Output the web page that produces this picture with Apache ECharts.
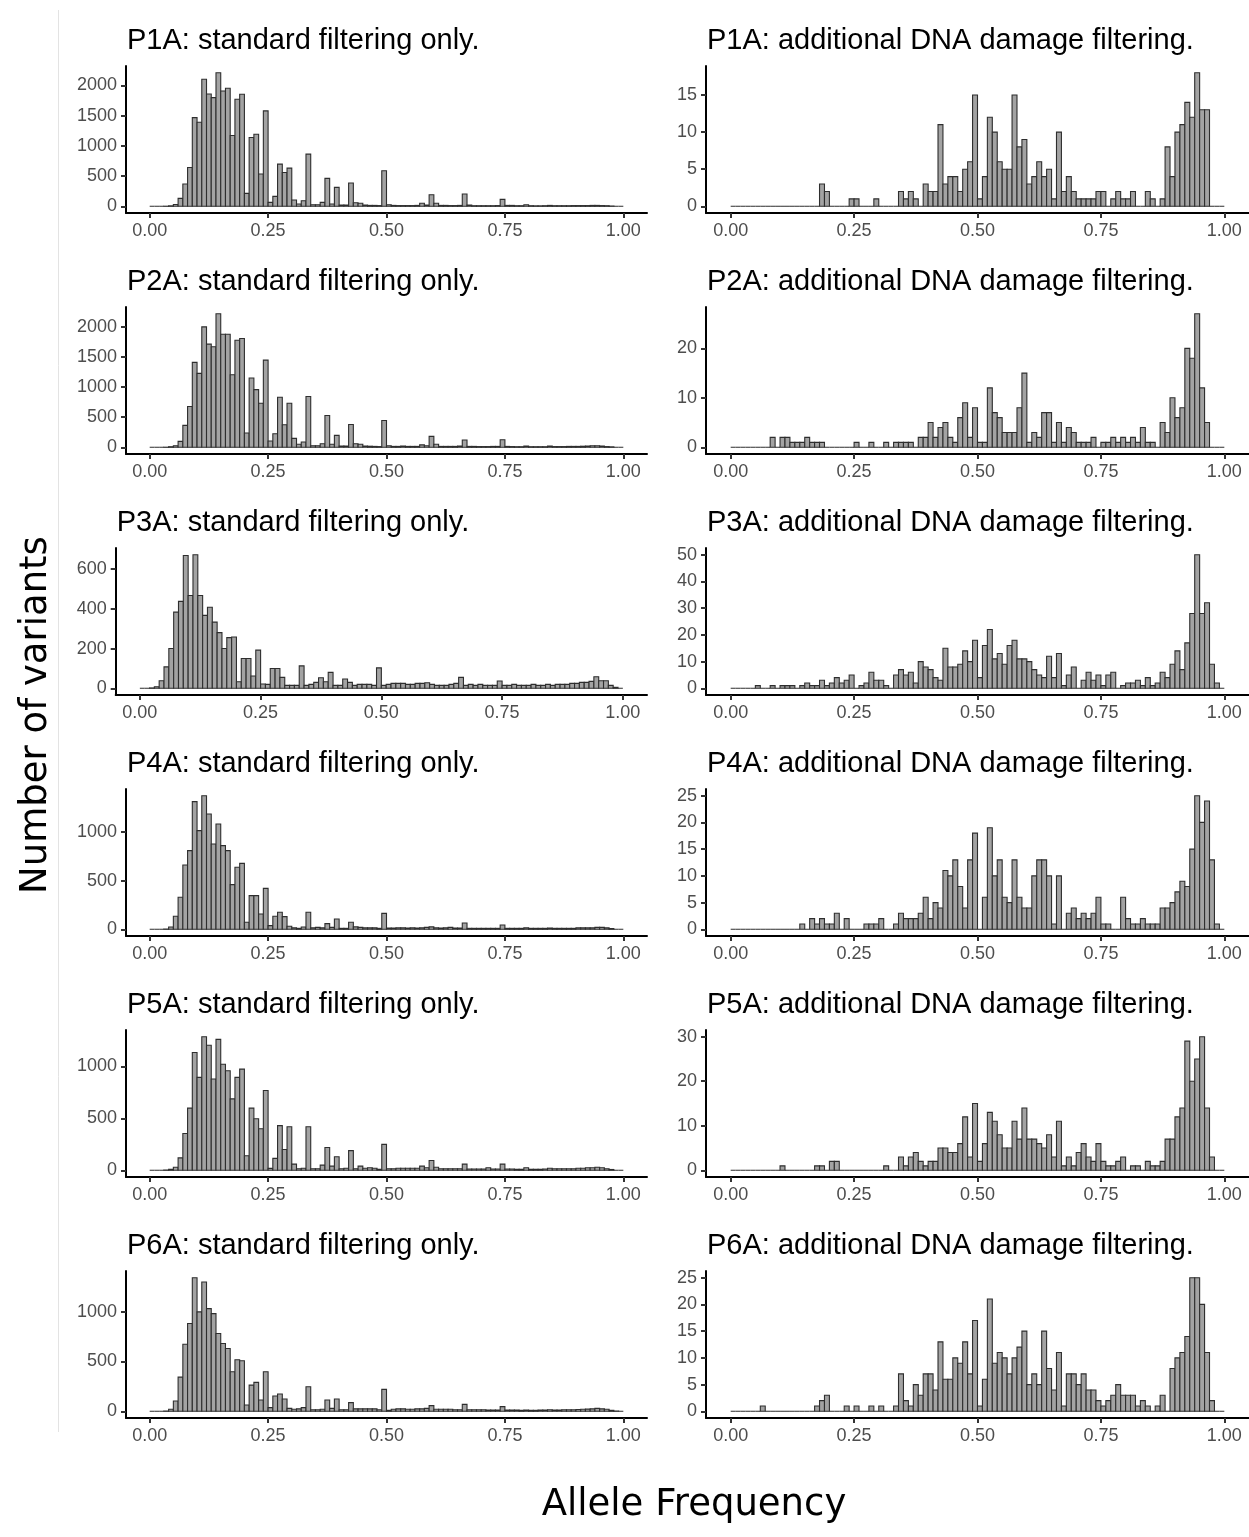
<!DOCTYPE html>
<html>
<head>
<meta charset="utf-8">
<title>Allele frequency histograms</title>
<script src="https://cdn.jsdelivr.net/npm/echarts@6/dist/echarts.min.js"></script>
<style>
  html, body { margin: 0; padding: 0; background: #fff; }
  #chart { width: 1249px; height: 1537px; }
</style>
</head>
<body>
<div id="chart"></div>
<script>
// 100 bins of width 0.01 on [0, 1]
var binWidth = 0.01;
var xTicks = [0, 0.25, 0.5, 0.75, 1];

var samples = ['P1A', 'P2A', 'P3A', 'P4A', 'P5A', 'P6A'];

// standard filtering only
var p1aStd = [
  0, 0, 0, 2, 8, 30, 132, 368, 642, 1466,
  1390, 2100, 1857, 1797, 2209, 1907, 1951, 1170, 1769, 1852,
  214, 1137, 1192, 533, 1577, 66, 165, 698, 560, 632,
  104, 38, 93, 863, 27, 27, 66, 462, 38, 313,
  20, 20, 385, 60, 50, 20, 15, 15, 12, 588,
  27, 15, 12, 12, 12, 12, 15, 50, 20, 192,
  50, 15, 15, 12, 12, 15, 203, 20, 10, 10,
  10, 10, 10, 12, 115, 15, 15, 10, 10, 25,
  10, 8, 8, 10, 15, 10, 10, 10, 10, 12,
  12, 12, 12, 15, 15, 12, 10, 5, 0, 0
];
var p2aStd = [
  0, 0, 0, 2, 10, 27, 99, 363, 676, 1407,
  1225, 1995, 1709, 1665, 2214, 1874, 1874, 1203, 1775, 1802,
  236, 1148, 956, 731, 1445, 104, 225, 830, 374, 731,
  148, 50, 88, 841, 27, 27, 60, 528, 50, 198,
  20, 20, 379, 60, 50, 20, 18, 15, 12, 445,
  25, 15, 15, 20, 15, 15, 15, 40, 25, 181,
  50, 15, 15, 15, 15, 20, 121, 15, 15, 12,
  12, 12, 15, 15, 126, 15, 12, 10, 10, 20,
  10, 10, 10, 10, 20, 12, 12, 12, 15, 15,
  15, 18, 20, 25, 25, 20, 12, 8, 0, 0
];
var p3aStd = [
  0, 0, 2, 8, 38, 108, 200, 383, 437, 668,
  467, 672, 467, 367, 408, 333, 280, 200, 255, 258,
  33, 150, 150, 62, 192, 22, 20, 100, 100, 55,
  15, 15, 15, 113, 15, 20, 30, 53, 33, 80,
  15, 15, 47, 30, 15, 20, 20, 20, 15, 103,
  15, 20, 25, 25, 25, 20, 20, 25, 25, 28,
  20, 15, 15, 15, 20, 25, 55, 15, 20, 15,
  20, 15, 15, 15, 37, 15, 15, 20, 15, 15,
  15, 20, 15, 15, 20, 15, 20, 20, 20, 25,
  25, 30, 30, 35, 58, 38, 38, 15, 5, 0
];
var p4aStd = [
  0, 0, 0, 3, 24, 134, 329, 661, 808, 1312,
  1014, 1373, 1185, 877, 1082, 860, 808, 459, 637, 678,
  72, 346, 346, 158, 421, 38, 134, 175, 130, 31,
  15, 10, 24, 175, 15, 20, 15, 58, 20, 106,
  10, 10, 72, 25, 20, 15, 15, 15, 10, 164,
  12, 12, 15, 15, 12, 15, 12, 15, 20, 25,
  15, 12, 15, 20, 12, 12, 65, 10, 10, 10,
  10, 10, 10, 10, 45, 10, 10, 10, 10, 15,
  10, 10, 10, 10, 12, 10, 10, 10, 10, 10,
  15, 15, 15, 15, 20, 20, 15, 8, 0, 0
];
var p5aStd = [
  0, 0, 0, 3, 10, 30, 120, 354, 599, 1134,
  895, 1287, 1204, 879, 1261, 1022, 959, 688, 895, 975,
  140, 599, 497, 401, 768, 19, 115, 430, 200, 420,
  60, 15, 20, 420, 15, 15, 50, 220, 40, 130,
  15, 20, 190, 15, 40, 20, 25, 20, 10, 250,
  15, 15, 20, 20, 20, 20, 20, 40, 25, 95,
  30, 15, 15, 15, 15, 15, 60, 12, 12, 12,
  12, 25, 12, 12, 60, 12, 12, 10, 10, 25,
  10, 10, 10, 12, 20, 15, 15, 15, 15, 15,
  20, 20, 25, 25, 30, 25, 15, 8, 0, 0
];
var p6aStd = [
  0, 0, 0, 3, 20, 103, 343, 673, 880, 1340,
  997, 1297, 1030, 980, 780, 680, 630, 397, 517, 507,
  63, 263, 290, 113, 397, 37, 153, 173, 123, 30,
  20, 25, 37, 247, 15, 15, 20, 113, 30, 123,
  15, 15, 87, 25, 25, 25, 25, 25, 15, 220,
  10, 20, 25, 25, 20, 20, 25, 25, 30, 57,
  20, 20, 20, 20, 15, 15, 70, 15, 15, 15,
  15, 12, 12, 12, 47, 12, 12, 12, 10, 12,
  10, 10, 12, 12, 15, 12, 12, 15, 15, 15,
  18, 20, 22, 25, 30, 25, 20, 10, 3, 0
];

// additional DNA damage filtering
var p1aDna = [
  0, 0, 0, 0, 0, 0, 0, 0, 0, 0,
  0, 0, 0, 0, 0, 0, 0, 0, 3, 2,
  0, 0, 0, 0, 1, 1, 0, 0, 0, 1,
  0, 0, 0, 0, 2, 1, 2, 1, 0, 3,
  2, 2, 11, 3, 4, 4, 2, 5, 6, 15,
  1, 4, 12, 10, 6, 5, 5, 15, 8, 9,
  3, 4, 6, 4, 5, 1, 10, 2, 4, 2,
  1, 1, 1, 1, 2, 2, 0, 1, 2, 1,
  1, 2, 0, 0, 2, 1, 0, 1, 8, 4,
  10, 11, 14, 12, 18, 13, 13, 0, 0, 0
];
var p2aDna = [
  0, 0, 0, 0, 0, 0, 0, 0, 2, 0,
  2, 2, 1, 1, 1, 2, 1, 1, 1, 0,
  0, 0, 0, 0, 0, 1, 0, 0, 1, 0,
  0, 1, 0, 1, 1, 1, 1, 0, 2, 2,
  5, 2, 4, 5, 2, 1, 6, 9, 2, 8,
  1, 1, 12, 7, 6, 3, 3, 3, 8, 15,
  1, 3, 2, 7, 7, 1, 5, 1, 4, 3,
  1, 1, 1, 2, 0, 1, 1, 2, 1, 2,
  1, 2, 1, 4, 1, 1, 0, 5, 3, 10,
  6, 8, 20, 18, 27, 12, 5, 0, 0, 0
];
var p3aDna = [
  0, 0, 0, 0, 0, 1, 0, 0, 1, 0,
  1, 1, 1, 0, 1, 2, 1, 1, 3, 1,
  2, 4, 2, 3, 5, 0, 1, 2, 6, 3,
  3, 1, 0, 5, 7, 5, 6, 2, 10, 8,
  7, 4, 3, 15, 8, 8, 9, 14, 10, 18,
  4, 16, 22, 11, 13, 9, 16, 18, 11, 11,
  10, 7, 5, 4, 12, 4, 13, 1, 5, 8,
  0, 3, 6, 3, 5, 1, 5, 6, 0, 1,
  2, 2, 3, 1, 4, 1, 2, 6, 4, 9,
  14, 7, 17, 28, 50, 28, 32, 9, 2, 0
];
var p4aDna = [
  0, 0, 0, 0, 0, 0, 0, 0, 0, 0,
  0, 0, 0, 0, 1, 0, 2, 1, 2, 1,
  1, 3, 0, 2, 0, 0, 0, 1, 1, 1,
  2, 0, 0, 1, 3, 2, 2, 2, 3, 6,
  2, 5, 4, 11, 10, 13, 8, 4, 13, 18,
  0, 6, 19, 10, 13, 6, 5, 13, 6, 4,
  4, 10, 13, 13, 10, 1, 10, 0, 3, 4,
  2, 3, 2, 3, 6, 1, 1, 0, 0, 6,
  2, 1, 1, 2, 1, 1, 1, 4, 4, 5,
  7, 9, 8, 15, 25, 20, 24, 13, 1, 0
];
var p5aDna = [
  0, 0, 0, 0, 0, 0, 0, 0, 0, 0,
  1, 0, 0, 0, 0, 0, 0, 1, 1, 0,
  2, 2, 0, 0, 0, 0, 0, 0, 0, 0,
  0, 1, 0, 0, 3, 1, 3, 4, 2, 1,
  2, 2, 5, 5, 4, 4, 6, 12, 3, 15,
  2, 6, 13, 11, 8, 5, 5, 11, 7, 14,
  7, 7, 6, 5, 8, 3, 11, 1, 3, 1,
  4, 6, 3, 2, 6, 2, 1, 1, 2, 3,
  0, 1, 1, 0, 2, 1, 1, 2, 7, 7,
  12, 14, 29, 20, 25, 30, 14, 3, 0, 0
];
var p6aDna = [
  0, 0, 0, 0, 0, 0, 1, 0, 0, 0,
  0, 0, 0, 0, 0, 0, 0, 1, 2, 3,
  0, 0, 0, 1, 0, 1, 0, 0, 1, 0,
  1, 0, 0, 1, 7, 2, 1, 5, 3, 7,
  7, 4, 13, 6, 6, 10, 9, 13, 7, 17,
  1, 6, 21, 9, 11, 10, 7, 10, 12, 15,
  5, 7, 5, 15, 8, 4, 11, 1, 7, 7,
  5, 7, 4, 4, 2, 1, 2, 3, 5, 3,
  3, 3, 1, 2, 1, 0, 1, 3, 0, 8,
  10, 11, 14, 25, 25, 20, 11, 2, 0, 0
];

var stdCounts = [p1aStd, p2aStd, p3aStd, p4aStd, p5aStd, p6aStd];
var dnaCounts = [p1aDna, p2aDna, p3aDna, p4aDna, p5aDna, p6aDna];

var stdTicks = [
  [0, 500, 1000, 1500, 2000],
  [0, 500, 1000, 1500, 2000],
  [0, 200, 400, 600],
  [0, 500, 1000],
  [0, 500, 1000],
  [0, 500, 1000]
];
var dnaTicks = [
  [0, 5, 10, 15],
  [0, 10, 20],
  [0, 10, 20, 30, 40, 50],
  [0, 5, 10, 15, 20, 25],
  [0, 10, 20, 30],
  [0, 5, 10, 15, 20, 25]
];

// layout
var rowTop = 66, rowStep = 241, plotH = 147;
var leftColEnd = 647, rightColStart = 706, rightColEnd = 1249;
var digitW = 10.3;

var chart = echarts.init(document.getElementById('chart'));

var panels = [];
samples.forEach(function (s, r) {
  panels.push({ title: s + ': standard filtering only.', counts: stdCounts[r], ticks: stdTicks[r], row: r, col: 0 });
  panels.push({ title: s + ': additional DNA damage filtering.', counts: dnaCounts[r], ticks: dnaTicks[r], row: r, col: 1 });
});

var grids = [], xAxes = [], yAxes = [], series = [], texts = [];

function renderBar(params, api) {
  var lo = api.coord([api.value(0), 0]);
  var hi = api.coord([api.value(1), api.value(2)]);
  return {
    type: 'rect',
    shape: { x: lo[0], y: hi[1], width: hi[0] - lo[0], height: lo[1] - hi[1] },
    style: { fill: '#a3a3a3', stroke: '#2e2e2e', lineWidth: 1.1 }
  };
}

panels.forEach(function (p, i) {
  var digits = String(p.ticks[p.ticks.length - 1]).length;
  var left, right;
  if (p.col === 0) {
    left = 126 - (4 - digits) * digitW;
    right = leftColEnd;
  } else {
    left = rightColStart;
    right = rightColEnd;
  }
  var top = rowTop + p.row * rowStep;
  grids.push({ left: left, top: top, width: right - left, height: plotH });

  var maxCount = Math.max.apply(null, p.counts);

  xAxes.push({
    gridIndex: i, type: 'value', min: -0.05, max: 1.05,
    axisLine: { onZero: false, lineStyle: { color: '#000', width: 2 } },
    axisTick: { show: true, length: 5, customValues: xTicks, lineStyle: { color: '#333', width: 2 } },
    axisLabel: {
      customValues: xTicks, margin: 9, color: '#4d4d4d', fontSize: 18, fontFamily: 'Liberation Sans',
      formatter: function (v) { return v.toFixed(2); }
    },
    splitLine: { show: false }
  });
  yAxes.push({
    gridIndex: i, type: 'value', min: -0.05 * maxCount, max: 1.05 * maxCount,
    axisLine: { show: true, onZero: false, lineStyle: { color: '#000', width: 2 } },
    axisTick: { show: true, length: 5, customValues: p.ticks, lineStyle: { color: '#333', width: 2 } },
    axisLabel: {
      customValues: p.ticks, margin: 9, color: '#4d4d4d', fontSize: 18, fontFamily: 'Liberation Sans',
      formatter: function (v) { return String(Math.round(v)); }
    },
    splitLine: { show: false }
  });
  series.push({
    type: 'custom', xAxisIndex: i, yAxisIndex: i,
    renderItem: renderBar,
    encode: { x: [0, 1], y: 2 },
    data: p.counts.map(function (c, k) { return [k * binWidth, (k + 1) * binWidth, c]; })
  });
  texts.push({
    type: 'text', x: left + 1, y: 40.5 + p.row * rowStep,
    style: {
      text: p.title, fill: '#000', font: '29px "Liberation Sans"',
      align: 'left', verticalAlign: 'middle', textAlign: 'left', textVerticalAlign: 'middle'
    }
  });
});

texts.push({
  type: 'line', shape: { x1: 58.5, y1: 10, x2: 58.5, y2: 1432 },
  style: { stroke: '#e3e3e3', lineWidth: 1 }
});
texts.push({
  type: 'text', x: 36, y: 715, rotation: Math.PI / 2,
  style: {
    text: 'Number of variants', fill: '#000', font: '37px "DejaVu Sans"',
    align: 'center', verticalAlign: 'middle', textAlign: 'center', textVerticalAlign: 'middle'
  }
});
texts.push({
  type: 'text', x: 694, y: 1505,
  style: {
    text: 'Allele Frequency', fill: '#000', font: '37px "DejaVu Sans"',
    align: 'center', verticalAlign: 'middle', textAlign: 'center', textVerticalAlign: 'middle'
  }
});

chart.setOption({
  animation: false,
  backgroundColor: '#fff',
  grid: grids,
  xAxis: xAxes,
  yAxis: yAxes,
  series: series,
  graphic: texts
});
</script>
</body>
</html>
